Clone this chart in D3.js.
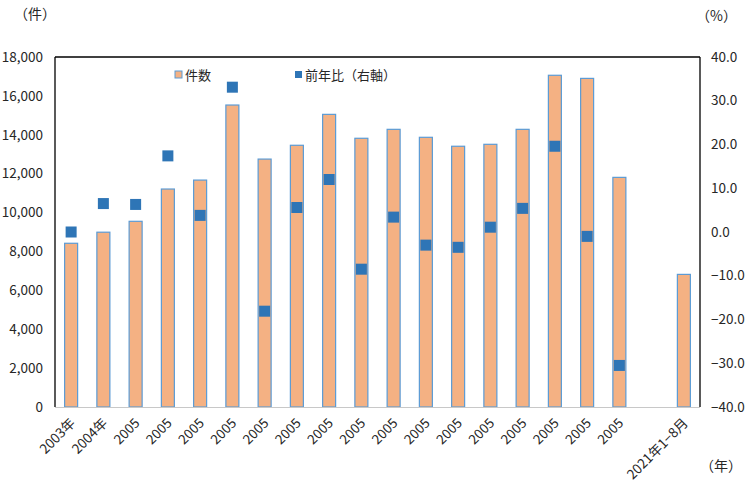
<!DOCTYPE html>
<html><head><meta charset="utf-8">
<script src="https://cdn.jsdelivr.net/npm/d3@7"></script>
<style>body{margin:0;background:#fff}svg{display:block}text{font-family:"Noto Sans CJK JP","Noto Sans",sans-serif;fill:#262626}</style>
</head><body><svg id="c" width="750" height="491"></svg>
<script>
const categories = ["2003年","2004年","2005","2005","2005","2005","2005","2005","2005","2005","2005","2005","2005","2005","2005","2005","2005","2005","","2021年1−8月"];
const counts = [8420,8990,9550,11210,11670,15530,12750,13460,15050,13820,14280,13870,13410,13510,14280,17060,16900,11810,null,6820];
const yoy = [0.0,6.5,6.3,17.4,3.8,33.1,-18.1,5.6,12.0,-8.5,3.4,-3.0,-3.5,1.1,5.4,19.6,-1.0,-30.5,null,null];
const leftTicks = [0,2000,4000,6000,8000,10000,12000,14000,16000,18000];
const rightTicks = [-40,-30,-20,-10,0,10,20,30,40];

const svg = d3.select("#c");
const L=55,R=700,T=57,B=407;
const x = d3.scaleBand().domain(d3.range(categories.length)).range([L,R]).paddingInner(0.6).paddingOuter(0.3);
const yL = d3.scaleLinear().domain([0,18000]).range([B,T]);
const yR = d3.scaleLinear().domain([-40,40]).range([B,T]);
const xc = i => L + (R-L)/categories.length*(i+0.5);
const bw = 13;

// bars
svg.append("g").selectAll("rect").data(counts.map((v,i)=>({v,i})).filter(d=>d.v!=null)).join("rect")
  .attr("x",d=>xc(d.i)-bw/2).attr("y",d=>yL(d.v)).attr("width",bw).attr("height",d=>B-yL(d.v))
  .attr("fill","#F4B183").attr("stroke","#5B9BD5").attr("stroke-width",1.2);

// frame
svg.append("line").attr("x1",L).attr("x2",R).attr("y1",B+0.5).attr("y2",B+0.5).attr("stroke","#c8c8c8").attr("stroke-width",1);
svg.append("line").attr("x1",L).attr("x2",R).attr("y1",T).attr("y2",T).attr("stroke","#000").attr("stroke-width",1.3);
svg.append("line").attr("x1",L).attr("x2",L).attr("y1",T).attr("y2",B).attr("stroke","#000").attr("stroke-width",1.3);
svg.append("line").attr("x1",R).attr("x2",R).attr("y1",T).attr("y2",B).attr("stroke","#000").attr("stroke-width",1.3);

// markers
const ms=11;
svg.append("g").selectAll("rect").data(yoy.map((v,i)=>({v,i})).filter(d=>d.v!=null)).join("rect")
  .attr("x",d=>xc(d.i)-ms/2).attr("y",d=>yR(d.v)-ms/2).attr("width",ms).attr("height",ms).attr("fill","#2E75B6");

// left axis labels
const fmt = d3.format(",");
svg.append("g").selectAll("text").data(leftTicks).join("text")
  .attr("x",43).attr("y",d=>yL(d)).attr("dy","0.35em").attr("text-anchor","end").attr("font-size",13.5).text(d=>fmt(d));
svg.append("g").selectAll("text").data(rightTicks).join("text")
  .attr("x",711).attr("y",d=>yR(d)).attr("dy","0.35em").attr("text-anchor","start").attr("font-size",13.5).text(d=>d3.format(".1f")(d));

// x labels
svg.append("g").selectAll("text").data(categories.map((c,i)=>({c,i}))).join("text")
  .attr("transform",d=>`translate(${xc(d.i)+5},${B+17}) rotate(-45)`).attr("text-anchor","end").attr("font-size",13.5).text(d=>d.c);

// axis titles
svg.append("text").attr("x",14).attr("y",19).attr("font-size",14).text("（件）");
svg.append("text").attr("x",696).attr("y",21).attr("font-size",14).text("（%）");
svg.append("text").attr("x",700).attr("y",471).attr("font-size",14).text("（年）");

// legend
svg.append("rect").attr("x",175).attr("y",71).attr("width",7).attr("height",7).attr("fill","#F4B183").attr("stroke","#5B9BD5");
svg.append("text").attr("x",185).attr("y",75).attr("dy","0.35em").attr("font-size",13).text("件数");
svg.append("rect").attr("x",295).attr("y",71).attr("width",7).attr("height",7).attr("fill","#2E75B6");
svg.append("text").attr("x",305).attr("y",75).attr("dy","0.35em").attr("font-size",13).text("前年比（右軸）");
</script></body></html>
